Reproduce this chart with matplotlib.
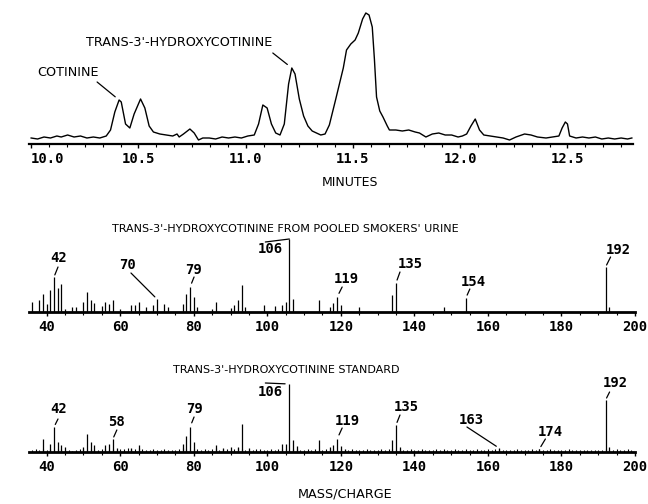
import numpy as np
import matplotlib
matplotlib.use("Agg")
import matplotlib.pyplot as plt
from matplotlib.ticker import MultipleLocator

# chromatogram (minutes, detector response)
chrom_time = [10.00, 10.03, 10.06, 10.09, 10.12, 10.14, 10.17, 10.20, 10.23, 10.26,
              10.29, 10.32, 10.35, 10.37, 10.39, 10.41, 10.42, 10.44, 10.46, 10.48,
              10.51, 10.53, 10.55, 10.57, 10.60, 10.63, 10.66, 10.68, 10.69, 10.71,
              10.74, 10.76, 10.78, 10.80, 10.83, 10.86, 10.89, 10.92, 10.95, 10.98,
              11.01, 11.04, 11.06, 11.08, 11.10, 11.12, 11.14, 11.16, 11.18, 11.20,
              11.215, 11.23, 11.25, 11.27, 11.29, 11.31, 11.33, 11.35, 11.37, 11.39,
              11.42, 11.455, 11.47, 11.49, 11.51, 11.525, 11.545, 11.56, 11.575, 11.59,
              11.60, 11.61, 11.625, 11.64, 11.66, 11.67, 11.70, 11.73, 11.76, 11.79,
              11.81, 11.84, 11.87, 11.90, 11.93, 11.96, 11.99, 12.01, 12.03, 12.05,
              12.07, 12.09, 12.11, 12.14, 12.17, 12.20, 12.23, 12.26, 12.30, 12.33,
              12.36, 12.40, 12.43, 12.46, 12.475, 12.49, 12.50, 12.51, 12.54, 12.57,
              12.60, 12.63, 12.66, 12.69, 12.72, 12.75, 12.78, 12.80]
chrom_signal = [6, 5, 7, 6, 8, 7, 9, 7, 8, 6,
                7, 6, 8, 14, 32, 44, 42, 20, 16, 30,
                45, 36, 18, 12, 10, 9, 8, 10, 7, 10,
                15, 11, 4, 6, 6, 5, 7, 6, 7, 6,
                8, 9, 20, 39, 36, 20, 11, 9, 20, 60,
                76, 70, 45, 28, 18, 13, 11, 9, 10, 19,
                45, 76, 94, 100, 104, 111, 125, 131, 129, 117,
                85, 47, 33, 27, 18, 14, 14, 13, 14, 12,
                11, 7, 10, 11, 9, 9, 7, 8, 10, 18,
                25, 14, 9, 8, 7, 6, 4, 7, 10, 9,
                7, 6, 7, 8, 16, 22, 20, 8, 6, 7,
                6, 7, 5, 6, 5, 6, 5, 6]
chrom_ticks = [10.0, 10.5, 11.0, 11.5, 12.0, 12.5]

chrom_labels = ["COTININE", "TRANS-3'-HYDROXYCOTININE"]
chrom_label_peaks = [(10.41, 44), (11.215, 76)]

# mass spectrum of the urine extract
urine_mz = [36, 38, 39, 40, 41, 42, 43, 44, 45, 47, 48, 50, 51, 52, 53, 55, 56, 57, 58,
            60, 63, 64, 65, 67, 69, 70, 72, 73, 77, 78, 79, 80, 81, 85, 86, 90, 91, 92,
            93, 94, 99, 102, 104, 105, 106, 107, 114, 117, 118, 119, 120, 125, 134,
            135, 148, 154, 192, 193]
urine_int = [10, 12, 18, 8, 22, 35, 24, 28, 3, 5, 5, 10, 20, 12, 9, 6, 10, 8, 12,
             3, 7, 7, 10, 5, 7, 13, 8, 5, 8, 18, 25, 15, 5, 3, 10, 4, 7, 12,
             27, 5, 7, 6, 7, 10, 73, 13, 12, 5, 9, 15, 7, 5, 17,
             29, 5, 14, 45, 5]
urine_labels = [42, 70, 79, 106, 119, 135, 154, 192]

# mass spectrum of the reference standard
std_mz = [39, 41, 42, 43, 44, 45, 50, 51, 52, 53, 56, 57, 58, 59, 63, 65, 77, 78, 79,
          80, 86, 88, 90, 92, 93, 95, 104, 105, 106, 107, 108, 114, 117, 118, 119,
          120, 121, 134, 135, 136, 163, 174, 192, 193]
std_int = [13, 8, 25, 10, 7, 5, 5, 18, 10, 7, 7, 8, 13, 4, 4, 7, 8, 16, 25,
           10, 7, 4, 5, 5, 28, 4, 8, 8, 68, 12, 6, 12, 5, 7, 13,
           6, 3, 12, 27, 5, 4, 3, 52, 5]
std_noise = [2, 3, 2, 3, 2, 3, 2, 3, 3, 2, 2, 1, 2, 3, 3, 2, 3, 2, 2, 3,
             3, 2, 3, 2, 3, 3, 4, 3, 3, 4, 3, 2, 2, 3, 2, 2, 3, 2, 2, 2,
             3, 4, 3, 2, 3, 3, 2, 3, 2, 3, 4, 2, 3, 3, 2, 3, 4, 3, 2, 2,
             2, 3, 3, 2, 2, 3, 2, 3, 3, 3, 2, 3, 3, 2, 2, 3, 2, 3, 2, 2,
             3, 3, 3, 2, 3, 2, 2, 3, 2, 2, 2, 3, 2, 2, 2, 3, 2, 3, 3, 2,
             3, 2, 2, 3, 2, 2, 3, 2, 2, 2, 3, 2, 3, 2, 2, 3, 2, 2, 3, 2,
             2, 3, 2, 2, 3, 2, 3, 3, 2, 2, 2, 2, 3, 2, 2, 2, 3, 2, 3, 2,
             2, 3, 2, 2, 2, 2, 3, 2, 2, 2, 2, 2, 2, 2, 2, 2, 3, 2, 2, 3,
             2, 2, 3, 2, 2]
std_noise_mz = list(range(36, 201))
std_labels = [42, 58, 79, 106, 119, 135, 163, 174, 192]

W, H = 648, 504
SANS = "DejaVu Sans"
MONO = "DejaVu Sans Mono"

fig = plt.figure(figsize=(6.48, 5.04), dpi=100)


def rect(left, top, right, bottom):
    return [left / W, 1 - bottom / H, (right - left) / W, (bottom - top) / H]


def style_axis(ax, lw):
    for s in ["left", "right", "top"]:
        ax.spines[s].set_visible(False)
    ax.spines["bottom"].set_linewidth(lw)
    ax.set_yticks([])
    ax.tick_params(axis="x", which="major", direction="out", length=3, width=1,
                   pad=3, labelsize=10)
    ax.tick_params(axis="x", which="minor", direction="out", length=2, width=0.8)
    for lab in ax.get_xticklabels():
        lab.set_fontfamily(MONO)
        lab.set_fontweight("bold")
    ax.patch.set_alpha(0)


def peak_label(ax, x, y, text, txt, lead0, lead1, fam=MONO, size=10, weight="bold"):
    ax.annotate(text, xy=(x, y), xytext=txt, textcoords="offset pixels",
                ha="center", va="center", family=fam, fontsize=size,
                fontweight=weight, annotation_clip=False)
    ax.annotate("", xy=(x, y), xytext=lead1, textcoords="offset pixels",
                arrowprops=dict(arrowstyle="-", lw=0.9, color="black",
                                shrinkA=0,
                                shrinkB=np.hypot(*lead0) * 0.72),
                annotation_clip=False)


# ---- chromatogram
ax1 = fig.add_axes(rect(29, 8, 632.7, 144))
ax1.plot(chrom_time, chrom_signal, color="black", lw=1.0)
ax1.set_xlim(9.99, 12.804)
ax1.set_ylim(0, 136)
ax1.set_xticks(chrom_ticks)
ax1.set_xticklabels([f"{t:.1f}" for t in chrom_ticks])
ax1.xaxis.set_minor_locator(MultipleLocator(0.5 / 6))
style_axis(ax1, 1.6)
ax1.get_xticklabels()[0].set_horizontalalignment("left")

chrom_offsets = [((-51, 27), (-4, 3), (-22, 18)),
                 ((-113, 26), (-4, 4), (-19, 15))]
for text, (t, h), (to, l0, l1) in zip(chrom_labels, chrom_label_peaks, chrom_offsets):
    peak_label(ax1, t, h, text, to, l0, l1, fam=SANS, size=9.2, weight="normal")

fig.text(350 / W, 1 - 183 / H, "MINUTES", ha="center", va="center",
         family=SANS, fontsize=9)

# ---- spectra
urine_offsets = {42: ((5, 19), (1, 2), (4, 10)),
                 70: ((-29, 34), (0, 3), (-26, 26)),
                 79: ((3, 17), (1, 4), (4, 10)),
                 106: ((-19, -10), (0, 0), (-24, -3)),
                 119: ((9, 18), (1, 4), (5, 10)),
                 135: ((14, 19), (1, 3), (4, 11)),
                 154: ((7, 16), (1, 3), (4, 9)),
                 192: ((13, 17), (1, 2), (5, 10))}
std_offsets = {42: ((5, 18), (2, 2), (4, 8)),
               58: ((4, 17), (1, 2), (4, 9)),
               79: ((4, 18), (2, 4), (4, 10)),
               106: ((-19, -8), (3, 3), (-24, 1)),
               119: ((10, 18), (2, 4), (5, 11)),
               135: ((10, 18), (2, 2), (4, 10)),
               163: ((-28, 28), (1, 3), (-32, 21)),
               174: ((11, 17), (2, 2), (6, 10)),
               192: ((10, 17), (1, 2), (4, 8))}

ax2 = fig.add_axes(rect(29, 236, 635, 312))
ax2.vlines(urine_mz, 0, urine_int, color="black", lw=0.9)
ax3 = fig.add_axes(rect(29, 376, 635, 452))
ax3.vlines(std_noise_mz, 0, std_noise, color="black", lw=0.8)
ax3.vlines(std_mz, 0, std_int, color="black", lw=0.9)

for ax, mz, inten, labels, offs in [(ax2, urine_mz, urine_int, urine_labels, urine_offsets),
                                    (ax3, std_mz, std_int, std_labels, std_offsets)]:
    ax.set_xlim(35.2, 200)
    ax.set_ylim(0, 76)
    ax.set_xticks(range(40, 201, 20))
    ax.xaxis.set_minor_locator(MultipleLocator(5))
    style_axis(ax, 2.0)
    for m in labels:
        to, l0, l1 = offs[m]
        peak_label(ax, m, inten[mz.index(m)], str(m), to, l0, l1)

fig.text(285 / W, 1 - 229 / H, "TRANS-3'-HYDROXYCOTININE FROM POOLED SMOKERS' URINE",
         ha="center", va="center", family=SANS, fontsize=8)
fig.text(286 / W, 1 - 370 / H, "TRANS-3'-HYDROXYCOTININE STANDARD",
         ha="center", va="center", family=SANS, fontsize=8)
fig.text(345 / W, 1 - 494 / H, "MASS/CHARGE", ha="center", va="center",
         family=SANS, fontsize=9.2)

fig.savefig("out.png", dpi=100)
